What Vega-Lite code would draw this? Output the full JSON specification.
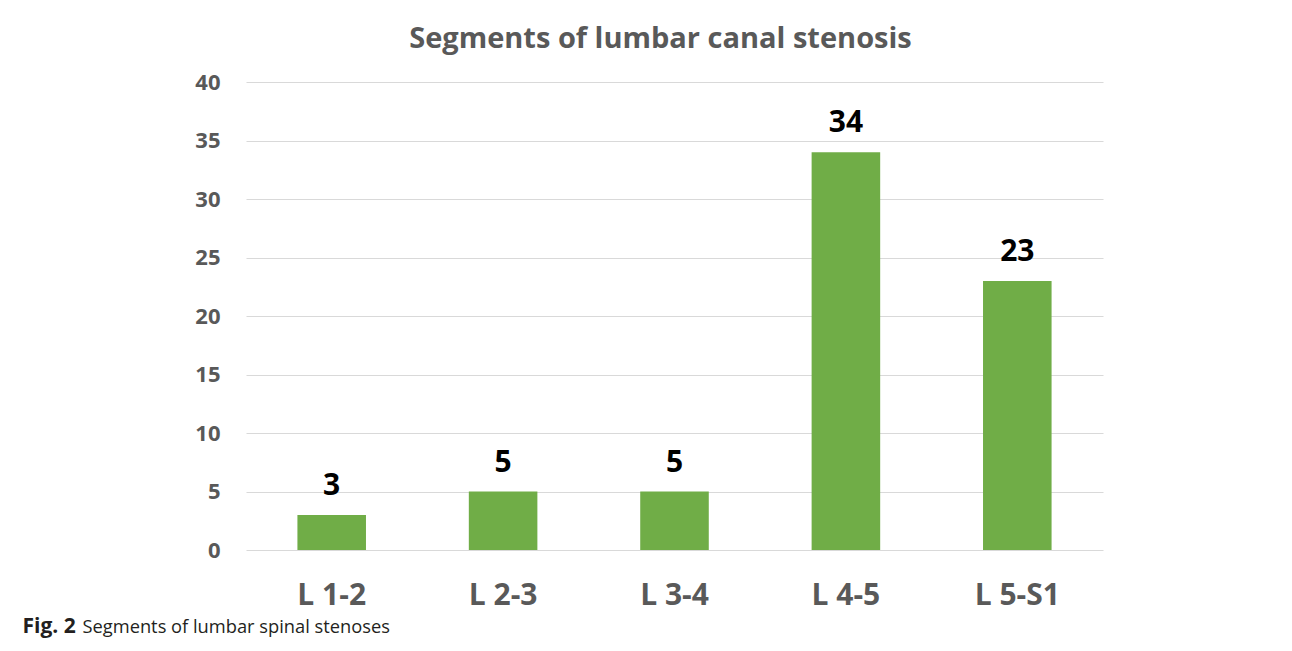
{
  "$schema": "https://vega.github.io/schema/vega-lite/v6.json",
  "autosize": {"type": "none"},
  "padding": {"left": 246, "top": 82, "right": 189, "bottom": 101},
  "width": 857,
  "height": 468,
  "background": "white",
  "config": {"view": {"stroke": null}, "font": "Open Sans"},
  "title": {
    "text": "Segments of lumbar canal stenosis",
    "anchor": "middle",
    "frame": "group",
    "dx": -14,
    "dy": 40,
    "font": "Open Sans",
    "fontSize": 29,
    "fontWeight": "bold",
    "color": "#595959",
    "baseline": "alphabetic",
    "offset": 34
  },
  "data": {
    "values": [
      {"segment": "L 1-2", "count": 3},
      {"segment": "L 2-3", "count": 5},
      {"segment": "L 3-4", "count": 5},
      {"segment": "L 4-5", "count": 34},
      {"segment": "L 5-S1", "count": 23}
    ]
  },
  "encoding": {
    "x": {
      "field": "segment",
      "type": "nominal",
      "sort": null,
      "scale": {"paddingInner": 0.6, "paddingOuter": 0.3},
      "axis": {
        "title": "Fig. 2",
        "titleFont": "Open Sans",
        "titleFontWeight": "bold",
        "titleFontSize": 21,
        "titleColor": "#231f20",
        "titleX": -224,
        "titleY": 82,
        "titleAlign": "left",
        "titleBaseline": "alphabetic",
        "titleAnchor": null,
        "labelAngle": 0,
        "labelFont": "Open Sans",
        "labelFontSize": 30,
        "labelFontWeight": "bold",
        "labelColor": "#595959",
        "labelPadding": 30,
        "ticks": false,
        "domain": false,
        "grid": false
      }
    },
    "y": {
      "field": "count",
      "type": "quantitative",
      "scale": {"domain": [0, 40], "nice": false},
      "axis": {
        "values": [0, 5, 10, 15, 20, 25, 30, 35, 40],
        "title": "Segments of lumbar spinal stenoses",
        "titleFont": "Open Sans",
        "titleFontWeight": "normal",
        "titleFontSize": 18.3,
        "titleColor": "#231f20",
        "titleAngle": 0,
        "titleX": -164,
        "titleY": 550,
        "titleAlign": "left",
        "titleBaseline": "alphabetic",
        "titleAnchor": null,
        "labelFont": "Open Sans",
        "labelFontSize": 22,
        "labelFontWeight": "bold",
        "labelColor": "#595959",
        "labelPadding": 26,
        "ticks": false,
        "domain": false,
        "grid": true,
        "gridColor": "#d9d9d9",
        "gridWidth": 1.2
      }
    }
  },
  "layer": [
    {"mark": {"type": "bar", "color": "#70AD47"}},
    {
      "mark": {
        "type": "text",
        "font": "Open Sans",
        "fontSize": 30,
        "fontWeight": "bold",
        "color": "#000000",
        "baseline": "alphabetic",
        "dy": -20
      },
      "encoding": {"text": {"field": "count", "type": "quantitative"}}
    }
  ]
}
